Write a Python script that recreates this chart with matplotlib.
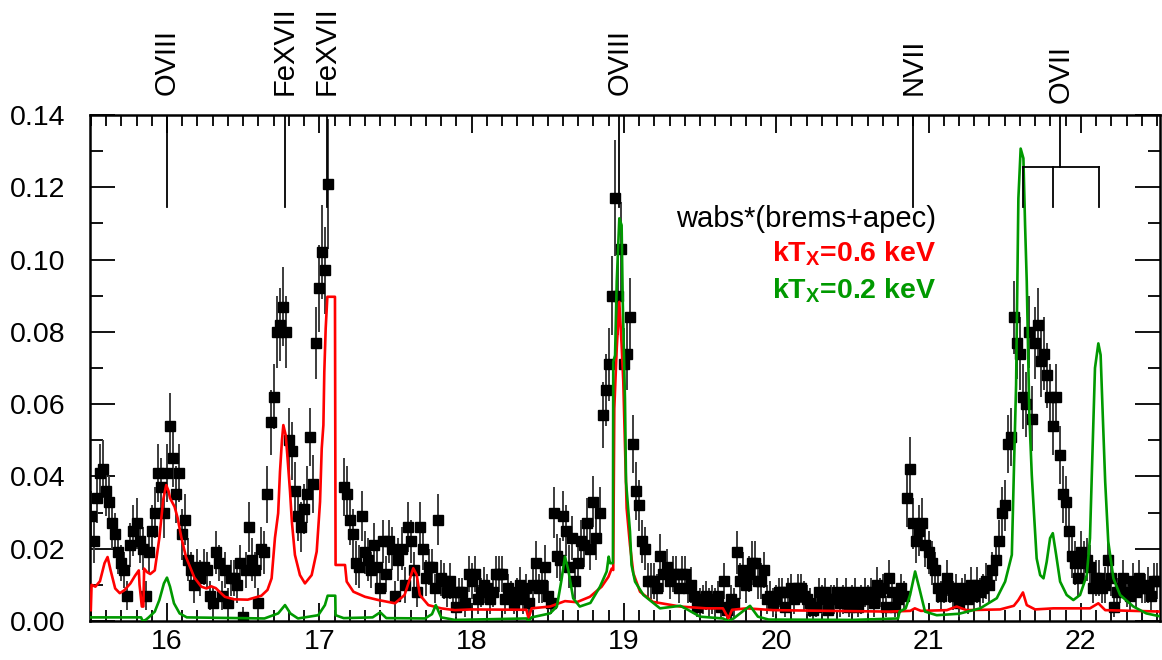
import numpy as np
import matplotlib
matplotlib.use("Agg")
import matplotlib.pyplot as plt
from matplotlib.ticker import MultipleLocator, FormatStrFormatter

plt.rcParams["font.family"] = ["Liberation Sans", "DejaVu Sans"]
plt.rcParams["mathtext.fontset"] = "custom"
plt.rcParams["mathtext.rm"] = "Liberation Sans:bold"
plt.rcParams["mathtext.it"] = "Liberation Sans:bold"
plt.rcParams["mathtext.bf"] = "Liberation Sans:bold"

nan = np.nan

# observed spectrum, 0.02 A bins starting at 15.50 A (units of 1e-3)
WAVE0, DWAVE = 15.50, 0.02
flux = [
    29, 22, 34, 41, 42, 36, 33, 27, 24, 19,     # 15.50
    16, 14, 7, 21, 25, 27, 22, 20, 7, 19,       # 15.70
    25, 30, 41, 37, 30, 41, 54, 45, 35, 41,     # 15.90
    24, 28, 17, 14, 10, 15, 12, 15, 14, 7,      # 16.10
    5, 19, 16, 7, 14, 5, 12, 12, 10, 16,        # 16.30
    1, 14, 26, 17, 14, 5, 20, 19, 35, 55,       # 16.50
    62, 80, 82, 87, 80, 50, 47, 36, 29, 26,     # 16.70
    31, 35, 51, 38, 77, 92, 102, 97, 121, nan,  # 16.90
    nan, nan, nan, 37, 35, 28, 24, 16, 15, 29,  # 17.10
    19, 17, 14, 21, 15, 9, 22, 13, 22, 20,      # 17.30
    7, 17, 20, 10, 26, 22, 14, 8, 26, 20,       # 17.50
    12, 15, 15, 9, 28, 12, 11, 8, 11, 8,        # 17.70
    4, 8, 8, 5, 13, 11, 13, 6, 8, 10,           # 17.90
    9, 6, 8, 13, 13, 13, 6, 9, 7, 5,            # 18.10
    8, 10, 6, 9, 5, 10, 16, 9, 10, 15,          # 18.30
    7, 5, 30, 18, 17, 29, 25, 15, 23, 11,       # 18.50
    16, 22, 21, 27, 20, 33, 23, 30, 57, 64,     # 18.70
    71, 90, 117, 90, 103, 71, 74, 84, 49, 36,   # 18.90
    32, 22, 20, 11, 11, 11, 9, 18, 13, 15,      # 19.10
    11, 13, 13, 9, 13, 13, 9, 10, 7, 4,         # 19.30
    5, 6, 7, 5, 6, 5, 7, 4, 11, 3,              # 19.50
    6, 5, 19, 11, 14, 10, 13, 16, 16, 11,       # 19.70
    11, 14, 6, 7, 5, 6, 8, 8, 4, 8,             # 19.90
    9, 6, 9, 9, 7, 6, 5, 3, 4, 8,               # 20.10
    6, 8, 3, 6, 6, 8, 5, 6, 8, 4,               # 20.30
    6, 8, 4, 6, 8, 6, 8, 5, 10, 8,              # 20.50
    9, 4, 12, 8, 4, 6, 9, 7, 34, 42,            # 20.70
    27, 22, 25, 27, 21, 19, 16, 14, 9, 7,       # 20.90
    9, 12, 9, 7, 9, 5, 8, 9, 6, 10,             # 21.10
    7, 10, 8, 9, 11, 10, 14, 17, 22, 30,        # 21.30
    32, 49, 51, 84, 77, 74, 62, 60, 80, 56,     # 21.50
    77, 82, 72, 74, 68, 62, 54, 62, 46, 35,     # 21.70
    33, 25, 18, 16, 12, 19, 16, 17, 15, 9,      # 21.90
    12, 12, 9, 10, 17, 12, 4, 8, 9, 12,         # 22.10
    8, 7, 11, 8, 12, 9, 9, 10, 7, 11,           # 22.30
    11,                                         # 22.50
]
flux_err = [
    7, 6, 7, 8, 8, 7, 7, 7, 6, 6,
    5, 5, 4, 6, 7, 7, 6, 6, 4, 6,
    7, 7, 8, 8, 7, 8, 9, 8, 8, 8,
    7, 7, 6, 5, 5, 5, 5, 5, 5, 4,
    4, 6, 5, 4, 5, 4, 5, 5, 5, 5,
    3, 5, 7, 6, 5, 4, 6, 6, 8, 9,
    9, 10, 10, 11, 10, 9, 8, 8, 7, 7,
    7, 8, 8, 8, 10, 12, 13, 12, 18, 0,
    0, 0, 0, 8, 8, 7, 7, 6, 6, 7,
    6, 6, 5, 6, 5, 5, 6, 5, 6, 6,
    4, 6, 6, 5, 7, 6, 5, 4, 7, 6,
    5, 5, 5, 4, 7, 5, 5, 4, 5, 4,
    3, 4, 4, 4, 5, 5, 5, 4, 4, 5,
    4, 4, 4, 5, 5, 5, 4, 4, 4, 3,
    4, 5, 4, 4, 3, 5, 6, 4, 5, 6,
    4, 3, 7, 6, 6, 7, 7, 6, 6, 5,
    6, 6, 6, 7, 6, 7, 6, 7, 9, 10,
    10, 11, 16, 11, 13, 10, 10, 11, 8, 8,
    7, 6, 6, 5, 5, 5, 4, 6, 5, 5,
    5, 5, 5, 4, 5, 5, 4, 5, 4, 3,
    4, 4, 4, 4, 4, 4, 4, 3, 5, 3,
    4, 4, 6, 5, 5, 5, 5, 6, 6, 5,
    5, 5, 4, 4, 4, 4, 4, 4, 3, 4,
    4, 4, 4, 4, 4, 4, 4, 3, 3, 4,
    4, 4, 3, 4, 4, 4, 4, 4, 4, 3,
    4, 4, 3, 4, 4, 4, 4, 4, 5, 4,
    4, 3, 5, 4, 3, 4, 4, 4, 8, 9,
    7, 6, 7, 7, 6, 6, 6, 5, 4, 4,
    4, 5, 4, 4, 4, 4, 4, 4, 4, 5,
    4, 5, 4, 4, 5, 5, 5, 6, 6, 7,
    7, 8, 8, 10, 10, 10, 9, 9, 10, 9,
    10, 10, 10, 10, 9, 9, 8, 9, 8, 8,
    7, 7, 6, 6, 5, 6, 6, 6, 6, 4,
    5, 5, 4, 5, 6, 5, 3, 4, 4, 5,
    4, 4, 5, 4, 5, 4, 4, 5, 4, 5,
    5,
]

# kT = 0.6 keV model (wavelength, flux 1e-3)
red_wave = [15.500, 15.505, 15.53, 15.56, 15.59, 15.61, 15.63, 15.66, 15.69, 15.72,
            15.76, 15.79, 15.815, 15.82, 15.835, 15.845, 15.85, 15.87, 15.89, 15.92,
            15.95, 15.975, 15.995, 16.01, 16.02, 16.05, 16.07, 16.095, 16.125, 16.18,
            16.225, 16.26, 16.29, 16.32, 16.38, 16.44, 16.53, 16.62, 16.66, 16.687,
            16.709, 16.73, 16.742, 16.755, 16.764, 16.78, 16.79, 16.808, 16.82, 16.84,
            16.873, 16.906, 16.95, 16.983, 17.005, 17.016, 17.027, 17.033, 17.042, 17.053,
            17.103, 17.107, 17.169, 17.18, 17.224, 17.30, 17.388, 17.497, 17.56, 17.589,
            17.617, 17.64, 17.66, 17.716, 17.80, 17.89, 18.00, 18.36, 18.374, 18.394,
            18.515, 18.613, 18.69, 18.777, 18.854, 18.898, 18.92, 18.93, 18.937, 18.953,
            18.97, 18.985, 18.996, 19.007, 19.018, 19.04, 19.062, 19.106, 19.19, 19.37,
            19.54, 19.65, 19.686, 19.71, 19.806, 19.98, 20.74, 20.88, 20.91, 20.95,
            21.12, 21.185, 21.25, 21.47, 21.56, 21.59, 21.62, 21.645, 21.70, 21.82,
            22.06, 22.115, 22.16, 22.53]
red_flux = [3.0, 10.0, 9.5, 11.0, 16.0, 17.7, 14.0, 9.0, 7.7, 8.5,
            10.4, 12.5, 14.0, 10.0, 4.0, 4.0, 14.5, 13.5, 13.0, 14.0,
            23.0, 33.5, 37.6, 36.0, 34.0, 31.6, 28.5, 23.0, 17.7, 12.0,
            9.5, 9.0, 9.6, 9.1, 6.7, 6.0, 5.9, 7.0, 8.6, 11.8,
            23.0, 29.8, 41.3, 50.0, 54.2, 51.3, 46.0, 35.8, 27.5, 18.3,
            12.7, 10.4, 12.7, 19.2, 33.0, 47.7, 54.2, 68.9, 80.9, 89.7,
            89.7, 15.5, 15.5, 10.9, 8.1, 6.7, 5.8, 4.9, 7.2, 10.9,
            14.6, 12.7, 7.2, 4.4, 3.5, 3.0, 3.2, 3.1, 0.7, 3.5,
            4.0, 5.5, 5.2, 6.7, 9.5, 12.2, 14.5, 14.1, 58.8, 75.5,
            88.3, 76.4, 66.2, 48.7, 31.2, 21.0, 13.2, 8.1, 5.3, 4.0,
            3.5, 3.5, 0.7, 3.1, 3.5, 3.0, 2.6, 2.8, 3.5, 2.8,
            3.0, 4.0, 3.0, 3.2, 4.2, 5.8, 7.9, 4.4, 3.2, 3.5,
            3.5, 4.9, 3.0, 2.6]

# kT = 0.2 keV model (wavelength, flux 1e-3)
green_wave = [15.50, 15.83, 15.84, 15.86, 15.88, 15.92, 15.95, 15.98, 16.00, 16.02,
              16.046, 16.083, 16.13, 16.64, 16.73, 16.775, 16.81, 16.86, 16.993, 17.037,
              17.055, 17.105, 17.107, 17.16, 17.35, 17.40, 17.44, 17.694, 17.74, 17.765,
              17.80, 17.89, 18.36, 18.374, 18.394, 18.515, 18.56, 18.59, 18.613, 18.635,
              18.667, 18.71, 18.78, 18.843, 18.887, 18.90, 18.909, 18.928, 18.93, 18.942,
              18.953, 18.97, 18.985, 18.992, 19.007, 19.014, 19.04, 19.05, 19.073, 19.128,
              19.237, 19.37, 19.42, 19.50, 19.65, 19.686, 19.72, 19.806, 19.828, 19.88,
              19.95, 20.50, 20.80, 20.81, 20.85, 20.879, 20.912, 20.94, 20.977, 21.054,
              21.20, 21.339, 21.448, 21.503, 21.547, 21.562, 21.575, 21.59, 21.605, 21.623,
              21.634, 21.645, 21.662, 21.678, 21.693, 21.71, 21.733, 21.755, 21.776, 21.798,
              21.816, 21.838, 21.864, 21.907, 21.951, 21.995, 22.039, 22.06, 22.076, 22.093,
              22.115, 22.13, 22.144, 22.16, 22.18, 22.214, 22.258, 22.345, 22.43, 22.53]
green_flux = [1.0, 1.0, 0.0, 0.3, 1.0, 2.6, 5.8, 10.4, 12.0, 9.5,
              4.9, 2.1, 1.0, 0.7, 2.1, 4.4, 2.1, 0.7, 1.6, 4.4,
              7.0, 7.0, 1.6, 0.8, 1.0, 2.4, 0.8, 0.7, 1.9, 4.4,
              1.0, 0.3, 0.7, 0.0, 1.0, 2.1, 4.0, 11.3, 17.8, 14.1,
              6.3, 4.0, 5.0, 9.5, 13.7, 17.8, 16.0, 16.0, 71.7, 73.5,
              93.9, 111.4, 109.5, 89.3, 61.6, 38.5, 24.7, 15.5, 10.9, 7.2,
              3.5, 4.2, 3.1, 1.2, 0.7, 0.0, 0.7, 3.5, 4.2, 1.2,
              0.4, 0.3, 0.7, 2.6, 3.5, 7.2, 13.7, 9.0, 2.6, 1.6,
              2.0, 3.5, 6.3, 10.9, 18.3, 44.0, 65.3, 116.9, 130.7, 128.0,
              109.5, 93.9, 57.0, 40.4, 29.4, 17.3, 12.7, 11.8, 16.4, 22.9,
              24.3, 18.3, 10.9, 7.2, 5.8, 7.2, 12.7, 22.9, 46.0, 70.0,
              76.8, 73.6, 57.0, 38.5, 22.0, 11.8, 7.2, 4.0, 2.1, 1.2]

# line identifications
ion_labels = ["OVIII", "FeXVII", "FeXVII", "OVIII", "NVII", "OVII"]
ion_wave = [16.00, 16.775, 17.05, 18.97, 20.90, 21.865]
triplet_wave = [21.623, 21.82, 22.12]

wave = WAVE0 + DWAVE * np.arange(len(flux))
flux = np.array(flux, dtype=float) * 1e-3
flux_err = np.array(flux_err, dtype=float) * 1e-3

fig = plt.figure(figsize=(11.62, 6.6), dpi=100)
ax = fig.add_axes([0.0775, 0.0591, 0.9208, 0.7667])

ax.errorbar(wave, flux, yerr=flux_err, fmt="s", color="black", ms=6.5,
            ecolor="#3c3c3c", elinewidth=1.4, capsize=0, zorder=2)
ax.plot(red_wave, np.array(red_flux) * 1e-3, color="#ff0000", lw=1.9, zorder=4)
ax.plot(green_wave, np.array(green_flux) * 1e-3, color="#009900", lw=1.9, zorder=5)

ax.set_xlim(15.495, 22.52)
ax.set_ylim(0, 0.14)

# identification ticks from the top
for w in ion_wave[:5]:
    ax.plot([w, w], [0.14, 0.1146], color="black", lw=1.3, zorder=6)
ax.plot([ion_wave[5], ion_wave[5]], [0.14, 0.1257], color="black", lw=1.3, zorder=6)
ax.plot([triplet_wave[0], triplet_wave[-1]], [0.1257, 0.1257], color="black", lw=1.3, zorder=6)
for w in triplet_wave:
    ax.plot([w, w], [0.1257, 0.1146], color="black", lw=1.3, zorder=6)

for lab, w in zip(ion_labels, ion_wave):
    yy = 1.0237 if lab == "OVII" else 1.0395
    ax.text(w, yy, lab, rotation=90, ha="center", va="bottom", fontsize=21,
            transform=ax.get_xaxis_transform())

ax.text(0.7907, 0.7787, "wabs*(brems+apec)", transform=ax.transAxes,
        ha="right", va="baseline", fontsize=21, color="black")
ax.text(0.7907, 0.7095, r"kT$_\mathrm{X}$=0.6 keV", transform=ax.transAxes,
        ha="right", va="baseline", fontsize=20.5, color="#ff0000", fontweight="bold")
ax.text(0.7907, 0.638, r"kT$_\mathrm{X}$=0.2 keV", transform=ax.transAxes,
        ha="right", va="baseline", fontsize=20.5, color="#009900", fontweight="bold")

ax.xaxis.set_major_locator(MultipleLocator(1))
ax.xaxis.set_minor_locator(MultipleLocator(0.1))
ax.yaxis.set_major_locator(MultipleLocator(0.02))
ax.yaxis.set_minor_locator(MultipleLocator(0.01))
ax.yaxis.set_major_formatter(FormatStrFormatter("%.2f"))
ax.tick_params(which="both", direction="in", top=True, right=True, width=1.3,
               labelsize=20.5, colors="black")
ax.tick_params(axis="x", which="major", length=13, pad=6)
ax.tick_params(axis="x", which="minor", length=8)
ax.tick_params(axis="y", which="major", length=18, pad=18)
ax.tick_params(axis="y", which="minor", length=9)
for s in ax.spines.values():
    s.set_linewidth(1.8)

fig.savefig("out.png", dpi=100)
